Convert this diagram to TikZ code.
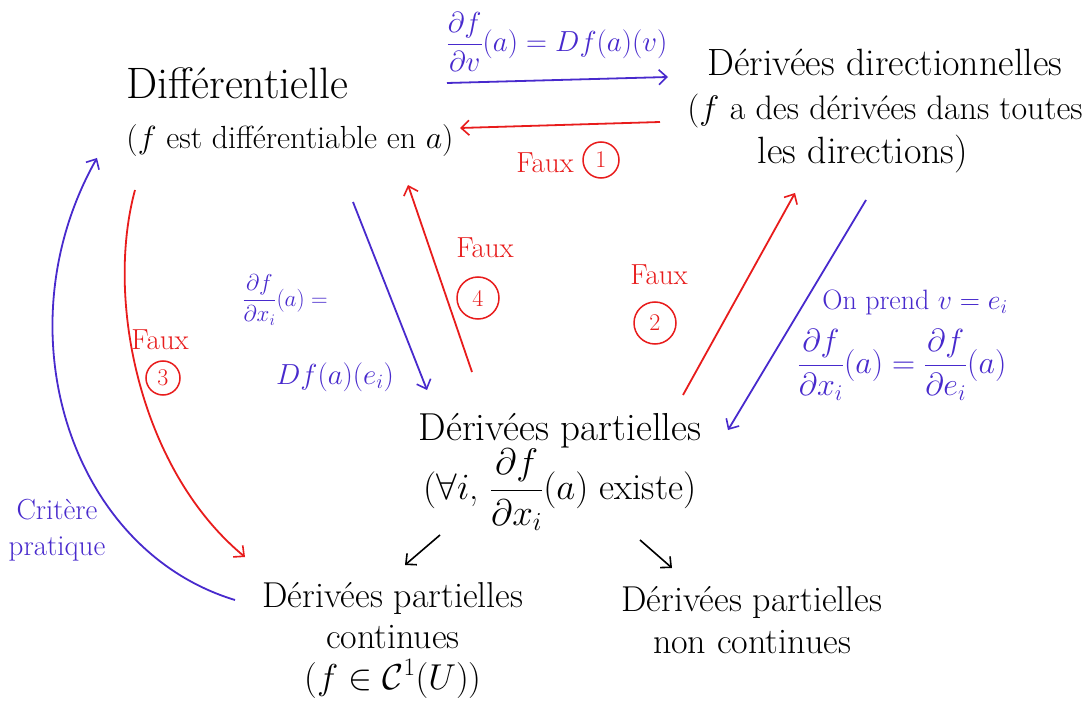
\RequirePackage{fix-cm}
\documentclass[tikz,border=0pt]{standalone}
\usepackage{amsmath,amssymb}
\usetikzlibrary{arrows.meta,calc}
\definecolor{pen}{RGB}{72,42,205}
\definecolor{rd}{RGB}{232,28,28}
\tikzset{
  box/.style={align=center, inner sep=0pt, font=\fontsize{34}{44}\selectfont},
  tip/.style={-{Straight Barb[length=8pt,width=15pt,line width=1.6pt]}},
  barrow/.style={draw=pen, line width=1.8pt, tip},
  rarrow/.style={draw=rd, line width=1.8pt, tip},
  karrow/.style={draw=black, line width=1.6pt, tip},
  blab/.style={text=pen, align=center, inner sep=0pt, font=\fontsize{28}{32}\selectfont},
  rlab/.style={text=rd, inner sep=0pt, font=\fontsize{29}{32}\selectfont},
  rcirc/.style={draw=rd, text=rd, circle, line width=1.5pt, minimum size=40pt, inner sep=0pt, font=\fontsize{24}{28}\selectfont},
}
\begin{document}
\begin{tikzpicture}[x=1pt,y=-1pt]
\useasboundingbox[fill=white] (0,0) rectangle (1088,706);

% main nodes
\node[box, align=left, font=\fontsize{32}{50}\selectfont] (D) at (290,112) {{\fontsize{44}{50}\selectfont Différentielle}\\($f$ est différentiable en $a$)};
\node[box, font=\fontsize{34}{44}\selectfont] (DD) at (885,111) {{\fontsize{38}{44}\selectfont Dérivées directionnelles}\\($f$ a des dérivées dans toutes\\{\fontsize{38}{40}\selectfont les directions)}\hspace*{44pt}};
\node[box, font=\fontsize{37}{56}\selectfont] (P) at (560,472) {{\fontsize{39}{44}\selectfont Dérivées partielles}\\($\forall i$, $\dfrac{\partial f}{\partial x_i}(a)$ existe)};
\node[box, font=\fontsize{36}{41}\selectfont] (C) at (393,640) {Dérivées partielles\\continues\\($f \in \mathcal{C}^1(U)$)};
\node[box, font=\fontsize{36}{42}\selectfont] (N) at (752,620) {Dérivées partielles\\non continues};

% top blue arrow D -> DD
\draw[barrow] ($(D)+(157,-29)$) -- ($(DD)+(-217,-34)$);
\node[blab, font=\fontsize{29}{34}\selectfont] (l1) at (557,42) {$\dfrac{\partial f}{\partial v}(a) = Df(a)(v)$};

% top red arrow DD -> D
\draw[rarrow] ($(DD)+(-225,11)$) -- ($(D)+(170,16)$);
\node[rlab] (f1) at (545,163) {Faux};
\node[rcirc, minimum size=36pt] (c1) at (601,160) {1};

% left red curve D -> C
\draw[rarrow] ($(D)+(-155,78)$) .. controls (105,300) and (140,470) .. ($(C)+(-148,-83)$);
\node[rlab] (f3) at (160,340) {Faux};
\node[rcirc, minimum size=34pt] (c3) at (163,378) {3};

% left blue curve C -> D (critere pratique)
\draw[barrow] ($(C)+(-158,-40)$) .. controls (70,550) and (0,330) .. ($(D)+(-193,46)$);
\node[blab, font=\fontsize{29}{36}\selectfont] (l4) at (57,530) {Critère\\pratique};

% blue D -> P
\draw[barrow] ($(D)+(63,90)$) -- ($(P)+(-133,-82)$);
\node[blab, font=\fontsize{23}{28}\selectfont] (l5a) at (285,300) {$\dfrac{\partial f}{\partial x_i}(a) =$};
\node[blab, font=\fontsize{29}{32}\selectfont] (l5b) at (335,377) {$Df(a)(e_i)$};

% red P -> D
\draw[rarrow] ($(P)+(-88,-100)$) -- ($(D)+(118,73)$);
\node[rlab] (f4) at (485,248) {Faux};
\node[rcirc, minimum size=42pt] (c4) at (478,298) {4};

% red P -> DD
\draw[rarrow] ($(P)+(123,-77)$) -- ($(DD)+(-90,82)$);
\node[rlab] (f2) at (659,275) {Faux};
\node[rcirc, minimum size=42pt] (c2) at (655,323) {2};

% blue DD -> P
\draw[barrow] ($(DD)+(-19,89)$) -- ($(P)+(168,-42)$);
\node[blab] (l8a) at (915,302) {On prend $v = e_i$};
\node[blab, font=\fontsize{32}{34}\selectfont] (l8b) at (902,365) {$\dfrac{\partial f}{\partial x_i}(a) = \dfrac{\partial f}{\partial e_i}(a)$};

% small black arrows
\draw[karrow] ($(P)+(-120,63)$) -- ($(C)+(12,-75)$);
\draw[karrow] ($(P)+(80,68)$) -- ($(N)+(-80,-52)$);
\end{tikzpicture}
\end{document}
